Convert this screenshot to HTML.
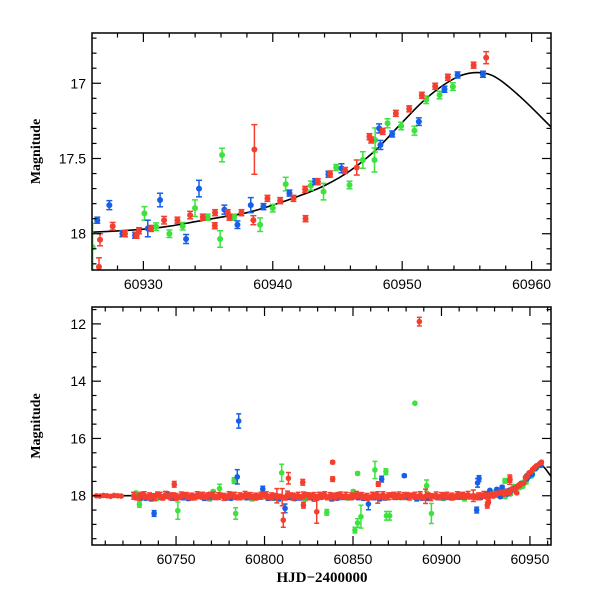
<!DOCTYPE html>
<html><head><meta charset="utf-8"><style>
html,body{margin:0;padding:0;background:#fff;}
svg{display:block;font-family:"Liberation Sans",sans-serif;}
</style></head><body>
<svg id="chart" width="600" height="600" viewBox="0 0 600 600"></svg>
<script>
// ---- model curve ----
const curveDays = [60700,60718,60760,60800,60840,60880,60910,60920,60926,60930,60932,60934,60936,60938,60940,60942,60944,60946,60948,60950,60952,60954,60955.5,60957,60959,60961.5,60963];
const curveMags = [18.0,18.0,18.0,18.0,18.0,18.0,18.0,18.0,17.99,17.97,17.95,17.92,17.89,17.86,17.81,17.75,17.68,17.58,17.44,17.26,17.09,16.97,16.93,16.95,17.08,17.29,17.42];
// ---- zoom panel data (red) ----
const redDays = [60926.65,60926.57,60927.63,60928.58,60929.48,60929.66,60930.59,60931.6,60932.63,60933.61,60934.59,60935.54,60935.52,60936.52,60936.65,60937.58,60938.5,60938.58,60939.59,60940.57,60941.6,60942.5,60942.53,60943.48,60944.43,60945.59,60946.49,60947.47,60947.6,60948.5,60949.51,60950.54,60951.52,60952.55,60953.53,60955.52,60956.49];
const redMags = [18.04,18.22,17.95,18.0,18.01,17.98,17.965,17.91,17.91,17.876,17.89,17.86,17.947,17.86,17.89,17.86,17.91,17.44,17.765,17.78,17.765,17.705,17.90,17.654,17.603,17.58,17.56,17.355,17.377,17.32,17.2,17.17,17.08,17.02,16.96,16.88,16.83];
const redErrs = [0.04,0.06,0.025,0.02,0.02,0.02,0.02,0.025,0.02,0.025,0.02,0.02,0.02,0.02,0.02,0.02,0.03,0.165,0.02,0.02,0.02,0.02,0.02,0.02,0.02,0.02,0.05,0.02,0.02,0.02,0.02,0.02,0.02,0.02,0.02,0.02,0.04];
// ---- zoom panel data (blue) ----
const blueDays = [60926.44,60927.37,60928.38,60929.36,60930.34,60931.29,60933.3,60934.3,60936.26,60937.27,60938.3,60939.28,60941.29,60943.27,60944.3,60945.31,60948.22,60948.32,60949.23,60951.29,60953.27,60954.28,60956.24];
const blueMags = [17.91,17.81,18.0,18.01,17.965,17.776,18.035,17.70,17.84,17.94,17.81,17.82,17.73,17.654,17.605,17.565,17.30,17.41,17.337,17.255,17.04,16.945,16.94];
const blueErrs = [0.02,0.03,0.02,0.02,0.055,0.045,0.03,0.055,0.03,0.025,0.05,0.02,0.02,0.02,0.02,0.03,0.03,0.03,0.02,0.025,0.02,0.02,0.02];
// ---- zoom panel data (green) ----
const greenDays = [60926.08,60930.08,60930.98,60932.01,60933.04,60933.99,60934.97,60936.08,60935.93,60937.01,60939.02,60940.0,60941.0,60942.94,60943.92,60944.9,60945.93,60946.96,60947.91,60947.86,60948.87,60949.92,60950.95,60951.86,60952.89,60953.92];
const greenMags = [18.09,17.865,17.953,18.0,17.95,17.83,17.89,17.477,18.035,17.89,17.94,17.83,17.67,17.68,17.72,17.56,17.676,17.51,17.377,17.51,17.266,17.284,17.315,17.11,17.078,17.022];
const greenErrs = [0.16,0.045,0.025,0.025,0.025,0.055,0.02,0.045,0.055,0.02,0.045,0.025,0.045,0.03,0.055,0.02,0.025,0.055,0.08,0.08,0.03,0.025,0.03,0.025,0.025,0.025];
// ---- full-baseline data ----
const redBaseDays = [60705,60707,60709,60711,60713,60715,60717,60719,60726,60729,60732,60735,60738,60741,60744,60747,60750,60753,60756,60759,60762,60765,60768,60771,60774,60777,60780,60783,60786,60789,60792,60795,60798,60801,60804,60807,60810,60813,60816,60819,60822,60825,60828,60831,60834,60837,60840,60843,60846,60849,60852,60855,60858,60861,60864,60867,60870,60873,60876,60879,60882,60885,60888,60891,60894,60897,60900,60903,60906,60909,60912,60915,60918,60921,60924,60887.5,60838.5,60838.5,60821.6,60749,60813.5,60810.6,60829.5,60864.3,60938.7,60925.9,60822];
const redBaseMags = [18.0,18.01,17.99,18.0,18.02,17.99,18.0,18.01,18.0,18.03,17.98,18.02,18.05,18.0,17.97,18.02,18.04,17.99,18.01,18.03,17.98,18.0,18.02,17.99,18.01,18.04,17.98,18.0,18.02,17.97,18.01,18.03,18.0,17.98,18.02,18.0,18.05,17.96,18.03,18.0,17.99,18.02,18.04,18.0,17.98,18.01,18.03,17.99,18.0,18.02,17.97,18.01,18.04,18.0,18.06,17.98,18.02,18.0,17.99,18.01,18.03,18.0,17.98,18.02,18.05,17.99,18.01,18.0,18.03,17.98,18.0,17.97,18.0,18.02,17.97,11.92,16.83,17.42,17.53,17.6,17.39,18.85,18.56,17.59,17.43,18.33,18.33];
const redBaseErrs = [0.03,0.03,0.03,0.03,0.03,0.03,0.03,0.03,0.12,0.12,0.12,0.12,0.12,0.12,0.12,0.12,0.12,0.12,0.12,0.12,0.12,0.12,0.12,0.12,0.12,0.12,0.12,0.12,0.12,0.12,0.12,0.12,0.12,0.12,0.12,0.25,0.3,0.12,0.12,0.12,0.12,0.12,0.15,0.12,0.12,0.12,0.12,0.12,0.12,0.12,0.12,0.12,0.12,0.12,0.2,0.12,0.12,0.12,0.12,0.12,0.12,0.12,0.12,0.25,0.12,0.12,0.12,0.12,0.12,0.12,0.12,0.12,0.2,0.12,0.12,0.15,0.05,0.08,0.1,0.1,0.2,0.25,0.4,0.08,0.1,0.1,0.1];
const redFillDays = [60727.5,60730.5,60733.5,60736.5,60739.5,60742.5,60745.5,60748.5,60751.5,60754.5,60757.5,60760.5,60763.5,60766.5,60769.5,60772.5,60775.5,60778.5,60781.5,60784.5,60787.5,60790.5,60793.5,60796.5,60799.5,60802.5,60805.5,60808.5,60811.5,60814.5,60817.5,60820.5,60823.5,60826.5,60829.5,60832.5,60835.5,60838.5,60841.5,60844.5,60847.5,60850.5,60853.5,60856.5,60859.5,60862.5,60865.5,60868.5,60871.5,60874.5,60877.5,60880.5,60883.5,60886.5,60889.5,60892.5,60895.5,60898.5,60901.5,60904.5,60907.5,60910.5,60913.5,60916.5,60919.5,60922.5,60925.5,60928,60931,60934,60937,60940,60942,60944];
const redFillMags = [18.06,17.96,18.04,18.01,17.95,18.07,18.02,17.98,18.05,17.97,18.03,18.06,17.99,18.02,17.96,18.05,18.0,18.04,17.97,18.06,18.01,17.98,18.04,18.02,17.96,18.05,18.0,18.03,18.07,17.98,18.02,18.05,17.97,18.01,18.04,17.99,18.06,18.0,17.97,18.03,18.05,18.0,17.98,18.04,18.06,17.99,18.02,18.05,17.98,18.01,18.03,17.97,18.0,18.04,18.06,17.98,18.02,18.05,17.99,18.02,18.04,17.98,18.01,18.03,18.05,17.99,17.97,17.94,17.92,17.88,17.84,17.78,17.72,17.65];
const redFillErrs = [0.08,0.08,0.08,0.08,0.08,0.08,0.08,0.08,0.08,0.08,0.08,0.08,0.08,0.08,0.08,0.08,0.08,0.08,0.08,0.08,0.08,0.08,0.08,0.08,0.08,0.08,0.08,0.08,0.08,0.08,0.08,0.08,0.08,0.08,0.08,0.08,0.08,0.08,0.08,0.08,0.08,0.08,0.08,0.08,0.08,0.08,0.08,0.08,0.08,0.08,0.08,0.08,0.08,0.08,0.08,0.08,0.08,0.08,0.08,0.08,0.08,0.08,0.08,0.08,0.08,0.08,0.05,0.05,0.05,0.05,0.05,0.05,0.05,0.05];
const blueBaseDays = [60730,60736,60742,60748,60754,60760,60766,60772,60778,60790,60796,60802,60808,60814,60820,60826,60832,60838,60844,60850,60856,60862,60868,60874,60880,60886,60892,60898,60904,60910,60916,60922,60928,60785.4,60737.6,60784.6,60799,60879,60866.2,60919.9,60920.4,60921.2,60858.7,60811.6,60733,60745,60757,60769,60781,60793,60805,60817,60829,60841,60853,60865,60877,60889,60901,60913,60925];
const blueBaseMags = [18.07,18.1,18.05,18.08,18.06,18.04,18.08,18.05,18.07,18.06,18.04,18.08,18.1,18.05,18.07,18.06,18.04,18.1,18.05,18.03,18.08,18.06,18.07,18.05,18.04,18.1,18.08,18.06,18.05,18.04,18.03,18.05,18.0,15.39,18.62,17.34,17.77,17.3,17.42,18.5,17.55,17.4,18.29,18.44,18.09,17.93,18.1,18.07,18.09,18.06,18.08,18.1,18.05,18.09,18.07,18.11,18.06,18.09,18.07,18.05,17.96];
const blueBaseErrs = [0.08,0.08,0.08,0.08,0.08,0.08,0.08,0.08,0.08,0.08,0.08,0.08,0.08,0.08,0.08,0.08,0.08,0.08,0.08,0.08,0.08,0.08,0.08,0.08,0.08,0.08,0.08,0.08,0.08,0.08,0.08,0.08,0.05,0.25,0.1,0.25,0.1,0.05,0.1,0.1,0.15,0.1,0.2,0.15,0.06,0.06,0.06,0.06,0.06,0.06,0.06,0.06,0.06,0.06,0.06,0.06,0.06,0.06,0.06,0.06,0.06];
const greenBaseDays = [60727.4,60729.3,60733,60739,60745,60751,60757,60763,60769,60771,60774.6,60782.8,60783.7,60787,60793,60799,60805,60809.7,60817,60823,60835.2,60841,60847,60850.1,60851.1,60852.6,60852.6,60854.5,60862.4,60868.6,60868.9,60870.7,60877,60885,60891.6,60894.3,60901,60907,60913,60919,60935.9];
const greenBaseMags = [17.9,18.3,18.05,18.08,18.0,18.52,18.06,18.02,18.1,17.85,17.75,17.47,18.62,18.05,18.1,18.0,18.08,17.2,18.05,18.1,18.58,18.03,18.07,17.85,19.2,18.95,17.22,18.73,17.1,17.16,18.7,18.7,18.05,14.77,17.65,18.62,18.08,18.05,18.1,18.02,17.48];
const greenBaseErrs = [0.05,0.1,0.08,0.08,0.08,0.3,0.08,0.08,0.08,0.05,0.15,0.1,0.2,0.08,0.08,0.08,0.08,0.3,0.08,0.08,0.1,0.08,0.08,0.05,0.1,0.15,0.05,0.4,0.3,0.1,0.15,0.15,0.08,0.03,0.2,0.35,0.08,0.08,0.08,0.08,0.08];

const NS='http://www.w3.org/2000/svg';
const svg=document.getElementById('chart');
const COL={red:'#f43f2f',blue:'#1560e6',green:'#3ee23e'};
function mk(tag,attrs,parent){const e=document.createElementNS(NS,tag);for(const k in attrs)e.setAttribute(k,attrs[k]);(parent||svg).appendChild(e);return e;}

function smoothPath(pts){
  let d='M'+pts[0][0].toFixed(1)+' '+pts[0][1].toFixed(1);
  for(let i=0;i<pts.length-1;i++){
    const p0=pts[Math.max(0,i-1)],p1=pts[i],p2=pts[i+1],p3=pts[Math.min(pts.length-1,i+2)];
    const h=p2[0]-p1[0];
    const s1=(p2[1]-p0[1])/((p2[0]-p0[0])||1), s2=(p3[1]-p1[1])/((p3[0]-p1[0])||1);
    const c1x=p1[0]+h/3,c1y=p1[1]+s1*h/3;
    const c2x=p2[0]-h/3,c2y=p2[1]-s2*h/3;
    d+='C'+c1x.toFixed(1)+' '+c1y.toFixed(1)+' '+c2x.toFixed(1)+' '+c2y.toFixed(1)+' '+p2[0].toFixed(1)+' '+p2[1].toFixed(1);
  }
  return d;
}

function panel(cfg){
  const {L,R,T,B,x0,x1,y0,y1,name}=cfg;
  const sx=d=>L+(d-x0)/(x1-x0)*(R-L);
  const sy=m=>T+(m-y0)/(y1-y0)*(B-T);
  const g=mk('g',{});
  
  
  const cid=name+'-clip';
  const cp=mk('clipPath',{id:cid},g);mk('rect',{x:L,y:T,width:R-L,height:B-T},cp);
  const plot=mk('g',{'clip-path':'url(#'+cid+')'},g);
  const pts=curveDays.map((d,i)=>[sx(d),sy(curveMags[i])]);
  const cu=mk('path',{d:smoothPath(pts),fill:'none',stroke:'#000','stroke-width':1.6},plot);
  
  
  function series(days,mags,errs,col,sname,r,cap){
    const sg=mk('g',{},plot);
    
    
    days.forEach((d,i)=>{
      const m=mags[i];if(m===undefined)return;
      const e=errs[i]||0.02;const x=sx(d);
      const ya=sy(m-e),yb=sy(m+e);
      mk('line',{x1:x,x2:x,y1:ya,y2:yb,stroke:col,'stroke-width':1.5},sg);
      mk('line',{x1:x-cap,x2:x+cap,y1:ya,y2:ya,stroke:col,'stroke-width':1.5},sg);
      mk('line',{x1:x-cap,x2:x+cap,y1:yb,y2:yb,stroke:col,'stroke-width':1.5},sg);
      const c=mk('circle',{cx:x,cy:sy(m),r:r,fill:col},sg);
      
      
    });
  }
  const r=cfg.r,cap=cfg.cap;
  if(cfg.full){
    series(greenBaseDays,greenBaseMags,greenBaseErrs,COL.green,'green-baseline-points',r,cap);
    series(blueBaseDays,blueBaseMags,blueBaseErrs,COL.blue,'blue-baseline-points',r,cap);
  }
  series(greenDays,greenMags,greenErrs,COL.green,'green-points',r,cap);
  series(blueDays,blueMags,blueErrs,COL.blue,'blue-points',r,cap);
  if(cfg.full){
    series(redBaseDays,redBaseMags,redBaseErrs,COL.red,'red-baseline-points',r,cap);
    series(redFillDays,redFillMags,redFillErrs,COL.red,'red-baseline-points-2',r,cap);
  }
  series(redDays,redMags,redErrs,COL.red,'red-points',r,cap);
  mk('rect',{x:L,y:T,width:R-L,height:B-T,fill:'none',stroke:'#000','stroke-width':1.5},g);
  const tk=mk('g',{stroke:'#000','stroke-width':1.2},g);
  for(let v=Math.ceil(x0/cfg.xminor)*cfg.xminor;v<=x1;v+=cfg.xminor){
    const x=sx(v);const major=Math.abs(v/cfg.xmajor-Math.round(v/cfg.xmajor))<1e-6;const len=major?9:4.5;
    mk('line',{x1:x,x2:x,y1:B,y2:B-len},tk);mk('line',{x1:x,x2:x,y1:T,y2:T+len},tk);
  }
  for(let v=Math.ceil(y0/cfg.yminor-1e-6)*cfg.yminor;v<=y1+1e-9;v+=cfg.yminor){
    const y=sy(v);const major=Math.abs(v/cfg.ymajor-Math.round(v/cfg.ymajor))<1e-6;const len=major?9:4.5;
    mk('line',{x1:L,x2:L+len,y1:y,y2:y},tk);mk('line',{x1:R,x2:R-len,y1:y,y2:y},tk);
  }
  cfg.xlabels.forEach(v=>{const t=mk('text',{x:sx(v),y:B+19,'text-anchor':'middle','font-size':14},g);t.textContent=v;
    });
  cfg.ylabels.forEach(v=>{const t=mk('text',{x:L-6,y:sy(v)+5,'text-anchor':'end','font-size':14},g);t.textContent=v;
    });
  const yt=mk('text',{x:0,y:0,'text-anchor':'middle','font-size':14,'font-weight':'bold','font-family':'Liberation Serif, serif',transform:'translate(40,'+((T+B)/2)+') rotate(-90)'},g);
  yt.textContent='Magnitude';
  
  
}
const topXLabels=[60930,60940,60950,60960];
const topYLabels=[17,17.5,18];
const botXLabels=[60750,60800,60850,60900,60950];
const botYLabels=[12,14,16,18];
panel({name:'zoom-panel',L:92,R:551,T:33,B:270,x0:60926.03,x1:60961.5,y0:16.666,y1:18.241,xminor:2,xmajor:10,yminor:0.1,ymajor:0.5,xlabels:topXLabels,ylabels:topYLabels,r:3,cap:3,full:false});
panel({name:'full-panel',L:92,R:551,T:307,B:545,x0:60702.5,x1:60961.9,y0:11.41,y1:19.72,xminor:10,xmajor:50,yminor:0.5,ymajor:2,xlabels:botXLabels,ylabels:botYLabels,r:2.8,cap:2.5,full:true});
const xt=mk('text',{x:322,y:582,'text-anchor':'middle','font-size':15,'font-weight':'bold','font-family':'Liberation Serif, serif'});
xt.textContent='HJD\u22122400000';


</script>
</body></html>
